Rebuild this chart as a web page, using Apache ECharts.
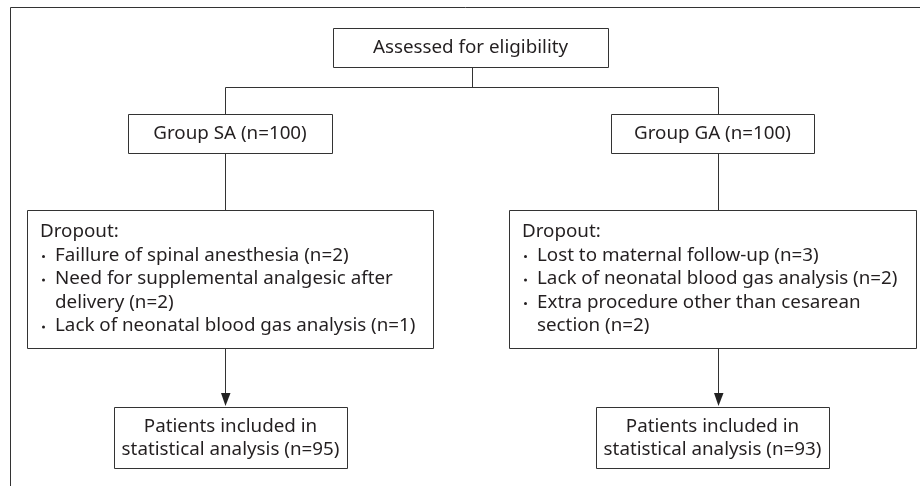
<!DOCTYPE html>
<html><head><meta charset="utf-8">
<script src="https://cdn.jsdelivr.net/npm/echarts@6/dist/echarts.min.js"></script>
<style>html,body{margin:0;padding:0;background:#fff}#c{width:920px;height:486px}</style>
</head><body><div id="c"></div>
<script>
const topLabel = 'Assessed for eligibility';
const groupLabels = ['Group SA (n=100)', 'Group GA (n=100)'];
const dropoutTitle = 'Dropout:';
const dropoutSA = [['Faillure of spinal anesthesia (n=2)'], ['Need for supplemental analgesic after', 'delivery (n=2)'], ['Lack of neonatal blood gas analysis (n=1)']];
const dropoutGA = [['Lost to maternal follow-up (n=3)'], ['Lack of neonatal blood gas analysis (n=2)'], ['Extra procedure other than cesarean', 'section (n=2)']];
const finalLabels = [['Patients included in', 'statistical analysis (n=95)'], ['Patients included in', 'statistical analysis (n=93)']];

const FONT = '"Noto Sans", sans-serif';
const FS = 18.8;
const LINE = '#333';
const TXT = '#231f20';
const LH = 23.5;

const chart = echarts.init(document.getElementById('c'), null, {renderer: 'canvas'});
const els = [];
function rect(x1, y1, x2, y2) {
  els.push({type: 'rect', shape: {x: x1 + 0.5, y: y1 + 0.5, width: x2 - x1, height: y2 - y1},
    style: {fill: '#fff', stroke: LINE, lineWidth: 1}});
}
function line(pts) {
  els.push({type: 'polyline', shape: {points: pts.map(p => [p[0] + 0.5, p[1] + 0.5])},
    style: {stroke: LINE, lineWidth: 1, fill: null}});
}
function text(str, x, y, align) {
  els.push({type: 'text', x: x, y: y, style: {text: str, fill: TXT, fontSize: FS, fontFamily: FONT,
    align: align || 'left', verticalAlign: 'middle'}});
}
function arrow(x, y1, y2) {
  line([[x, y1], [x, y2 - 11]]);
  els.push({type: 'polygon', shape: {points: [[x - 4.5 + 0.5, y2 - 13], [x + 5.5, y2 - 13], [x + 0.5, y2]]},
    style: {fill: '#222', stroke: null}});
}

// outer frame
line([[10, 486], [10, 7], [920, 7]]);

// top box
rect(333, 28, 608, 67);
text(topLabel, 470.5, 47.5, 'center');
line([[472, 67], [472, 87]]);
line([[225, 114], [225, 87], [718, 87], [718, 114]]);

// group boxes
const gbox = [[128, 332], [611, 814]];
const vx = [225, 718];
gbox.forEach((b, i) => {
  rect(b[0], 114, b[1], 153);
  text(groupLabels[i], (b[0] + b[1]) / 2, 134, 'center');
  line([[vx[i], 153], [vx[i], 210]]);
});

// dropout boxes
const dbox = [[27, 433], [509, 916]];
const dtx = [40, 522];
[dropoutSA, dropoutGA].forEach((items, i) => {
  const b = dbox[i];
  rect(b[0], 210, b[1], 348);
  let y = 232;
  text(dropoutTitle, dtx[i], y);
  items.forEach(it => {
    y += LH;
    els.push({type: 'circle', shape: {cx: dtx[i] + 3.5, cy: y + 1, r: 1.5}, style: {fill: TXT}});
    it.forEach((ln, k) => {
      if (k > 0) y += LH;
      text(ln, dtx[i] + 15, y);
    });
  });
  arrow(vx[i], 348, 406);
});

// final boxes
const fbox = [[114, 347], [596, 829]];
fbox.forEach((b, i) => {
  rect(b[0], 407, b[1], 468);
  const cx = (b[0] + b[1]) / 2;
  text(finalLabels[i][0], cx, 426.5, 'center');
  text(finalLabels[i][1], cx, 450, 'center');
});

chart.setOption({animation: false, graphic: {elements: els}});
</script></body></html>
